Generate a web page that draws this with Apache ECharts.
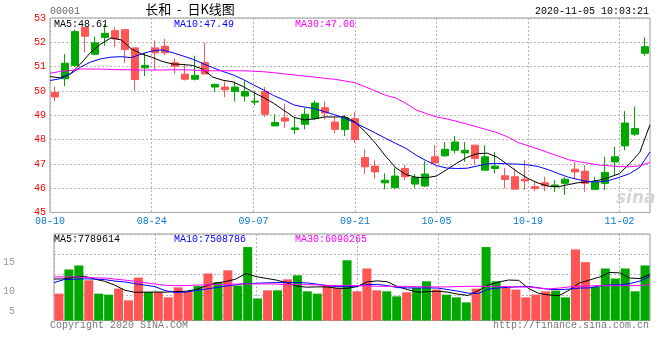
<!DOCTYPE html>
<html><head><meta charset="utf-8">
<script src="https://cdn.jsdelivr.net/npm/echarts@6/dist/echarts.min.js"></script>
<style>html,body{margin:0;padding:0;background:#fff}#c{width:660px;height:360px}</style>
</head><body><div id="c"></div>
<script>
// ---- data ----
const stockCode = '00001';
const stockTitle = '长和  -  日K线图';
const timestamp = '2020-11-05 10:03:21';
const copyrightText = 'Copyright 2020 SINA.COM';
const urlText = 'http://finance.sina.com.cn';

const dates = ['08-10','08-11','08-12','08-13','08-14','08-17','08-18','08-19','08-20','08-21',
'08-24','08-25','08-26','08-27','08-28','08-31','09-01','09-02','09-03','09-04',
'09-07','09-08','09-09','09-10','09-11','09-14','09-15','09-16','09-17','09-18',
'09-21','09-22','09-23','09-24','09-25','09-28','09-29','09-30','10-05','10-06',
'10-07','10-08','10-09','10-12','10-14','10-15','10-16','10-19','10-20','10-21',
'10-22','10-23','10-27','10-28','10-29','10-30','11-02','11-03','11-04','11-05'];
const dateTickLabels = ['08-10','08-24','09-07','09-21','10-05','10-19','11-02'];

const opens = [49.94,50.50,51.05,52.61,51.51,52.20,52.48,52.52,51.77,50.95,
51.77,51.84,51.16,50.69,50.48,51.16,50.16,50.16,49.98,49.79,
49.54,49.98,48.56,48.89,48.41,48.63,48.86,49.31,48.72,48.41,
48.86,47.26,46.91,46.22,46.02,46.81,46.17,46.09,47.29,47.33,
47.56,47.45,47.77,46.74,46.81,46.51,46.47,46.37,46.06,46.22,
46.06,46.20,46.78,46.70,45.95,46.20,47.08,47.74,48.22,51.55];
const closes = [49.75,51.14,52.44,52.25,51.98,52.37,52.14,51.70,50.47,51.05,
51.57,51.57,51.02,50.48,50.64,50.70,50.27,50.05,50.16,49.98,
49.58,49.04,48.70,48.76,48.48,49.04,49.50,49.09,48.42,48.90,
48.00,46.88,46.67,46.33,46.50,46.47,46.44,46.58,47.04,47.60,
47.90,47.56,47.22,47.29,46.91,46.36,45.96,46.30,45.99,46.10,
46.13,46.37,46.67,46.20,46.24,46.65,47.29,48.68,48.45,51.82];
const lows = [49.58,50.20,50.98,51.59,51.50,51.86,51.80,51.14,50.02,50.61,
50.87,51.48,50.70,50.43,50.43,50.70,49.95,49.75,49.57,49.57,
49.41,48.93,48.56,48.48,48.22,48.42,48.79,48.82,48.25,48.15,
47.86,46.58,46.40,45.95,45.96,46.33,46.02,46.05,47.04,47.29,
47.43,47.08,46.99,46.74,46.61,45.99,45.96,45.92,45.88,45.88,
45.85,45.72,46.40,45.85,45.92,45.92,46.54,47.56,48.15,51.43];
const highs = [50.18,51.52,52.52,52.63,52.23,52.75,52.61,52.52,51.77,51.57,
52.07,52.14,51.34,51.11,51.45,51.98,50.30,50.39,50.39,50.43,
49.98,50.16,49.04,49.48,48.90,49.30,49.61,49.57,48.93,49.00,
49.13,47.59,47.15,46.61,46.85,46.95,46.58,47.11,47.77,47.90,
48.14,47.90,47.77,47.77,47.49,46.84,46.81,47.15,46.30,46.47,
46.33,46.45,47.08,46.95,46.47,47.29,47.70,49.17,49.36,52.20];

const ma5 = [50.59,50.54,50.70,51.11,51.59,51.93,52.18,52.10,51.73,51.52,
51.39,51.22,51.11,51.09,51.05,50.90,50.57,50.44,50.37,50.18,
49.94,49.73,49.49,49.20,48.91,48.81,48.85,48.93,48.93,48.94,
48.72,48.32,47.85,47.32,46.84,46.56,46.45,46.43,46.50,46.76,
47.03,47.27,47.42,47.44,47.27,46.97,46.66,46.40,46.21,46.08,
46.06,46.15,46.23,46.26,46.33,46.45,46.60,47.01,47.48,48.61];
const ma10 = [50.43,50.50,50.70,50.98,51.19,51.32,51.39,51.41,51.37,51.52,
51.64,51.69,51.58,51.45,51.31,51.13,50.96,50.80,50.66,50.47,
50.25,50.04,49.81,49.63,49.42,49.34,49.27,49.15,49.02,48.87,
48.69,48.48,48.27,48.05,47.84,47.64,47.36,47.13,46.93,46.83,
46.81,46.82,46.91,47.00,47.02,47.00,46.99,46.96,46.89,46.76,
46.60,46.45,46.35,46.27,46.26,46.32,46.45,46.60,46.86,47.49];
const ma30 = [50.73,50.80,50.84,50.90,50.90,50.90,50.88,50.87,50.87,50.86,
50.86,50.86,50.87,50.87,50.86,50.83,50.83,50.83,50.83,50.83,
50.81,50.79,50.75,50.70,50.66,50.61,50.57,50.52,50.48,50.41,
50.34,50.17,50.00,49.82,49.71,49.49,49.22,49.07,48.93,48.85,
48.75,48.64,48.52,48.40,48.28,48.11,47.88,47.75,47.61,47.46,
47.32,47.17,47.09,47.02,46.95,46.92,46.89,46.88,46.92,47.06];

// volume, millions of shares
const volumes = [4.55,8.64,9.32,6.81,4.55,4.38,5.40,3.41,7.27,4.84,
4.84,3.92,5.62,4.94,5.83,7.96,6.47,8.50,5.91,12.44,
3.73,5.11,5.11,6.97,7.65,4.94,4.55,5.95,5.52,10.20,
4.94,8.81,5.11,4.94,4.09,4.77,5.52,6.64,5.23,4.38,
3.92,3.07,5.40,12.44,6.64,5.52,5.23,3.92,4.38,4.94,
5.06,3.92,12.04,9.88,5.69,8.81,7.10,8.81,4.94,9.32];
const volMa5 = [7.02,7.05,7.31,7.50,7.02,6.64,6.00,5.14,4.77,4.79,
4.82,4.80,4.89,4.94,5.23,5.83,6.34,6.59,7.02,7.96,
7.44,7.14,6.85,6.42,5.83,5.64,5.69,5.69,5.47,5.43,
5.74,6.54,6.71,6.56,5.74,5.23,4.80,4.89,4.97,4.80,
4.46,4.24,5.06,6.03,6.51,6.85,6.80,5.40,4.58,4.33,
4.21,5.14,6.34,6.85,7.36,8.13,8.07,7.19,7.10,7.789614];
const volMa10 = [6.42,6.93,6.98,7.05,7.02,6.93,6.68,6.54,6.25,6.00,
5.74,5.06,4.77,4.80,5.06,5.32,5.57,5.83,6.03,6.25,
6.30,6.37,6.42,6.46,6.42,6.37,6.17,5.91,5.74,5.74,
5.83,6.08,6.12,5.91,5.57,5.52,5.52,5.52,5.49,5.23,
4.97,4.63,4.58,5.32,5.52,5.62,5.71,5.78,5.52,5.28,
5.23,5.32,5.49,5.52,5.83,6.03,6.03,6.25,6.68,7.508786];
const volMa30 = [7.39,7.39,7.39,7.31,7.22,7.19,7.02,6.85,6.64,6.42,
6.17,5.96,5.91,5.91,6.00,6.03,6.08,6.12,6.17,6.20,
6.20,6.20,6.17,6.08,6.08,6.08,6.03,5.96,5.91,5.91,
5.91,5.86,5.79,5.79,5.79,5.79,5.74,5.69,5.69,5.69,
5.74,5.78,5.79,5.79,5.78,5.74,5.69,5.66,5.49,5.35,
5.49,5.69,5.79,5.86,5.91,5.91,5.91,5.91,5.91,6.090265];
const volTickLabels = ['', '5', '', '10', '', '', '15', '', '', ''];

// ---- chart ----
const UP = '#00a800', DOWN = '#ff5555';
const MONO = '"Liberation Mono","DejaVu Sans Mono",monospace';
const GRIDC = '#b4b4b4';
const last = dates.length - 1;
const tickSet = new Set(dateTickLabels);
const isTick = (i, v) => tickSet.has(v);
const candleData = dates.map((d, i) => [opens[i], closes[i], lows[i], highs[i]]);
const volData = volumes.map((v, i) => ({value: v, itemStyle: {color: closes[i] >= opens[i] ? UP : DOWN}}));
const txt = (text, left, top, color, extra) => Object.assign({
  text, left, top, padding: 0,
  textStyle: {fontFamily: MONO, fontSize: 10, fontWeight: 'normal', color}
}, extra || {});
const dotted = {show: true, lineStyle: {color: GRIDC, type: [2, 2], width: 1}};

const chart = echarts.init(document.getElementById('c'), null, {renderer: 'canvas'});
chart.setOption({
  animation: false,
  backgroundColor: '#fff',
  title: [
    txt(stockCode, 50, 6, '#666'),
    {text: stockTitle, left: 190, top: 3, padding: 0, textAlign: 'center',
     textStyle: {fontFamily: '"Noto Sans CJK SC"', fontSize: 13, fontWeight: 'normal', color: '#000'}},
    txt(timestamp, 649, 6, '#000', {textAlign: 'right'}),
    txt('MA5:' + ma5[last].toFixed(2), 54, 19, '#000'),
    txt('MA10:' + ma10[last].toFixed(2), 174, 19, '#0000ff'),
    txt('MA30:' + ma30[last].toFixed(2), 295, 19, '#ff00ff'),
    txt('MA5:' + Math.round(volMa5[last] * 1e6), 54, 234, '#000'),
    txt('MA10:' + Math.round(volMa10[last] * 1e6), 174, 234, '#0000ff'),
    txt('MA30:' + Math.round(volMa30[last] * 1e6), 295, 234, '#ff00ff'),
    txt(copyrightText, 50, 320, '#777'),
    txt(urlText, 649, 320, '#777', {textAlign: 'right'})
  ],
  graphic: [
    {type: 'text', left: 616, top: 190, z: 0, silent: true,
     style: {text: 'sina', font: 'italic bold 17px "DejaVu Sans"', fill: '#d6d6d6'}}
  ],
  grid: [
    {left: 50, top: 18, width: 600, height: 194.5, show: true, borderColor: '#999', borderWidth: 1, backgroundColor: 'transparent'},
    {left: 50, top: 234, width: 600, height: 86.5, show: true, borderColor: '#999', borderWidth: 1, backgroundColor: 'transparent'}
  ],
  xAxis: [
    {gridIndex: 0, type: 'category', data: dates, boundaryGap: true, show: false, position: 'bottom'},
    {gridIndex: 0, type: 'category', data: dates, boundaryGap: false, position: 'bottom',
     axisLine: {show: false}, axisTick: {show: false},
     axisLabel: {interval: isTick, color: '#0a78d0', fontFamily: MONO, fontSize: 10, margin: 4},
     splitLine: Object.assign({interval: isTick}, dotted)},
    {gridIndex: 1, type: 'category', data: dates, boundaryGap: true, show: false, position: 'bottom'},
    {gridIndex: 1, type: 'category', data: dates, boundaryGap: false, position: 'bottom',
     axisLine: {show: false}, axisTick: {show: false}, axisLabel: {show: false},
     splitLine: Object.assign({interval: isTick}, dotted)}
  ],
  yAxis: [
    {gridIndex: 0, type: 'value', min: 45, max: 53, interval: 1, position: 'left',
     axisLine: {show: false}, axisTick: {show: false},
     axisLabel: {color: '#ff0000', fontFamily: MONO, fontSize: 10, margin: 4},
     splitLine: dotted},
    {gridIndex: 1, type: 'value', min: 0, max: 14.65, show: false},
    {gridIndex: 1, type: 'category', data: volTickLabels, boundaryGap: false, position: 'left',
     axisLine: {show: false}, axisTick: {show: false}, splitLine: {show: false},
     axisLabel: {interval: 0, color: '#999', fontFamily: MONO, fontSize: 10, margin: 39}},
    {gridIndex: 1, type: 'value', min: 0, max: 4.25, interval: 1, inverse: true,
     axisLine: {show: false}, axisTick: {show: false}, axisLabel: {show: false},
     splitLine: dotted}
  ],
  series: [
    {type: 'candlestick', xAxisIndex: 0, yAxisIndex: 0, data: candleData, barWidth: 8,
     itemStyle: {color: UP, color0: DOWN, borderColor: UP, borderColor0: DOWN, borderWidth: 1}},
    {type: 'line', xAxisIndex: 1, yAxisIndex: 0, data: ma5, symbol: 'none', lineStyle: {color: '#000', width: 1}},
    {type: 'line', xAxisIndex: 1, yAxisIndex: 0, data: ma10, symbol: 'none', lineStyle: {color: '#0000ff', width: 1}},
    {type: 'line', xAxisIndex: 1, yAxisIndex: 0, data: ma30, symbol: 'none', lineStyle: {color: '#ff00ff', width: 1}},
    {type: 'bar', xAxisIndex: 2, yAxisIndex: 1, data: volData, barWidth: 9},
    {type: 'line', xAxisIndex: 3, yAxisIndex: 1, data: volMa5, symbol: 'none', lineStyle: {color: '#000', width: 1}},
    {type: 'line', xAxisIndex: 3, yAxisIndex: 1, data: volMa10, symbol: 'none', lineStyle: {color: '#0000ff', width: 1}},
    {type: 'line', xAxisIndex: 3, yAxisIndex: 1, data: volMa30, symbol: 'none', lineStyle: {color: '#ff00ff', width: 1}}
  ]
});
</script></body></html>
